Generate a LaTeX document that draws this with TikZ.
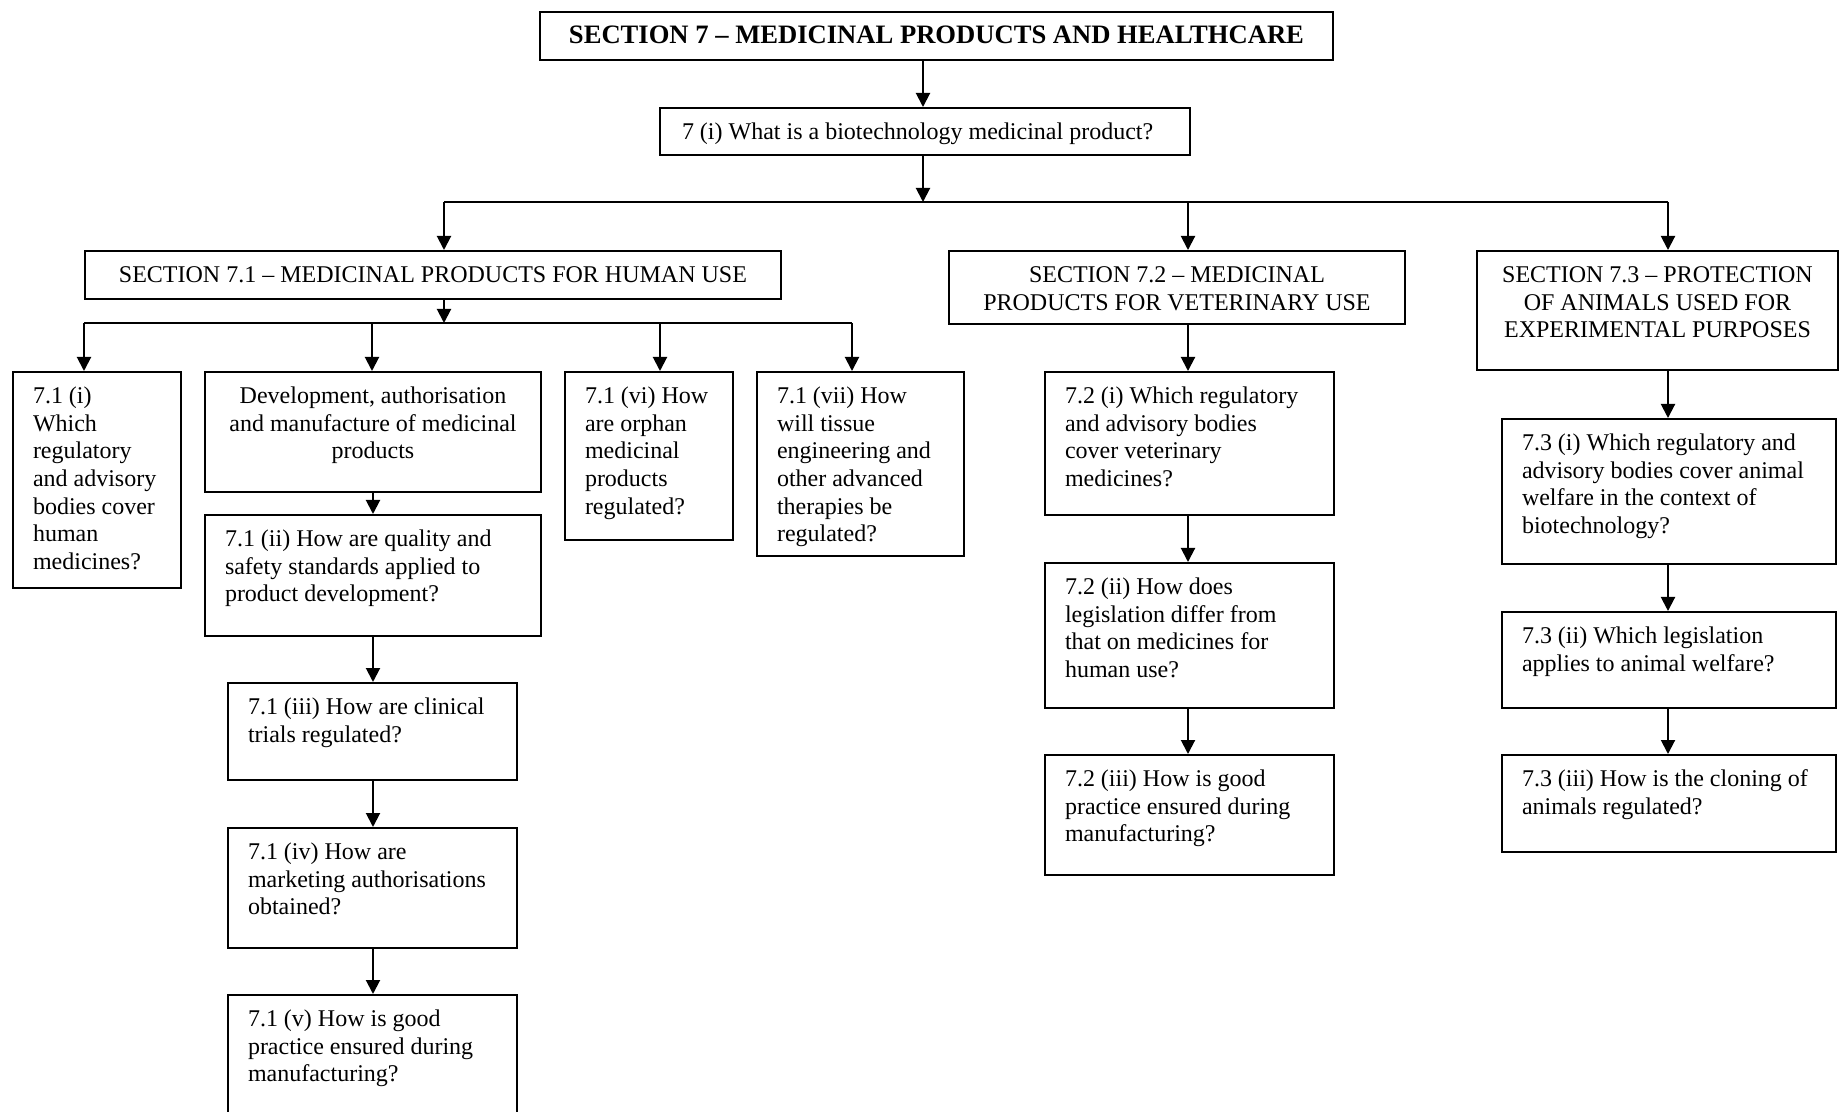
\documentclass[tikz,border=0pt]{standalone}
\usepackage{fontspec}
\setmainfont{Liberation Serif}
\usetikzlibrary{arrows.meta}
\tikzset{
  qbox/.style={draw, line width=1pt, inner sep=0pt, font=\fontsize{12}{13.8}\selectfont},
  arr/.style={line width=1pt, -{Triangle[length=7pt,width=7pt]}},
  link/.style={line width=1pt},
}
% #1 name, #2 x1, #3 y1, #4 x2, #5 y2 (pixel grid), #6 left padding (pt), #7 alignment, #8 text
\newcommand\qnode[8]{%
  \pgfmathsetmacro\qbw{(#4-#2)*0.5}%
  \pgfmathsetmacro\qbh{(#5-#3)*0.5}%
  \pgfmathsetmacro\qtw{\qbw-#6-#6}%
  \node[qbox, anchor=north west] (#1) at (#2,#3)
   {\parbox[b][\qbh pt][t]{\qbw pt}{\vspace*{6.2pt}\noindent\hspace*{#6pt}\parbox[t]{\qtw pt}{#7\strut#8}}};%
}
\begin{document}
\begin{tikzpicture}[x=0.5pt,y=-0.5pt]
\useasboundingbox (0,0) rectangle (1843,1112);
\clip (0,0) rectangle (1843,1112);

% top of the tree
\qnode{t}{539}{11}{1332}{59}{2}{\centering}{\fontsize{13.3}{14}\selectfont\bfseries SECTION 7 – MEDICINAL PRODUCTS AND HEALTHCARE}
\qnode{q7}{659}{107}{1189}{154}{11}{\raggedright}{7 (i) What is a biotechnology medicinal product?}

% three sections
\qnode{s71}{84}{250}{780}{298}{2}{\centering}{SECTION 7.1 – MEDICINAL PRODUCTS FOR HUMAN USE}
\qnode{s72}{948}{250}{1404}{323}{2}{\centering}{SECTION 7.2 – MEDICINAL\\PRODUCTS FOR VETERINARY USE}
\qnode{s73}{1476}{250}{1837}{369}{2}{\centering}{SECTION 7.3 – PROTECTION\\OF ANIMALS USED FOR\\EXPERIMENTAL PURPOSES}

% section 7.1
\qnode{a1}{12}{371}{180}{587}{10}{\raggedright}{7.1 (i)\\Which\\regulatory\\and advisory\\bodies cover\\human\\medicines?}
\qnode{dev}{204}{371}{540}{491}{3}{\centering}{Development, authorisation\\and manufacture of medicinal\\products}
\qnode{a2}{204}{514}{540}{635}{10}{\raggedright}{7.1 (ii) How are quality and\\safety standards applied to\\product development?}
\qnode{a3}{227}{682}{516}{779}{10}{\raggedright}{7.1 (iii) How are clinical\\trials regulated?}
\qnode{a4}{227}{827}{516}{947}{10}{\raggedright}{7.1 (iv) How are\\marketing authorisations\\obtained?}
\qnode{a5}{227}{994}{516}{1140}{10}{\raggedright}{7.1 (v) How is good\\practice ensured during\\manufacturing?}
\qnode{a6}{564}{371}{732}{539}{10}{\raggedright}{7.1 (vi) How\\are orphan\\medicinal\\products\\regulated?}
\qnode{a7}{756}{371}{963}{555}{10}{\raggedright}{7.1 (vii) How\\will tissue\\engineering and\\other advanced\\therapies be\\regulated?}

% section 7.2
\qnode{b1}{1044}{371}{1333}{514}{10}{\raggedright}{7.2 (i) Which regulatory\\and advisory bodies\\cover veterinary\\medicines?}
\qnode{b2}{1044}{562}{1333}{707}{10}{\raggedright}{7.2 (ii) How does\\legislation differ from\\that on medicines for\\human use?}
\qnode{b3}{1044}{754}{1333}{874}{10}{\raggedright}{7.2 (iii) How is good\\practice ensured during\\manufacturing?}

% section 7.3
\qnode{c1}{1501}{418}{1835}{563}{10}{\raggedright}{7.3 (i) Which regulatory and\\advisory bodies cover animal\\welfare in the context of\\biotechnology?}
\qnode{c2}{1501}{611}{1835}{707}{10}{\raggedright}{7.3 (ii) Which legislation\\applies to animal welfare?}
\qnode{c3}{1501}{754}{1835}{851}{10}{\raggedright}{7.3 (iii) How is the cloning of\\animals regulated?}

% junction points of the branching lines
\coordinate (j0) at (923,202);
\coordinate (bl) at (444,202);
\coordinate (bm) at (1188,202);
\coordinate (br) at (1668,202);
\coordinate (k0) at (444,323);
\coordinate (k1) at (84,323);
\coordinate (k2) at (372,323);
\coordinate (k3) at (660,323);
\coordinate (k4) at (852,323);

% connectors
\draw[arr] (t.south -| j0) -- (q7.north -| j0);
\draw[arr] (q7.south -| j0) -- (j0);
\draw[link] (bl) -- (br);
\draw[arr] (bl) -- (s71.north -| bl);
\draw[arr] (bm) -- (s72.north -| bm);
\draw[arr] (br) -- (s73.north -| br);

\draw[arr] (s71.south -| k0) -- (k0);
\draw[link] (k1) -- (k4);
\draw[arr] (k1) -- (a1.north -| k1);
\draw[arr] (k2) -- (dev.north -| k2);
\draw[arr] (k3) -- (a6.north -| k3);
\draw[arr] (k4) -- (a7.north -| k4);

\draw[arr] (dev.south) -- (a2.north -| dev.south);
\draw[arr] (a2.south) -- (a3.north -| a2.south);
\draw[arr] (a3.south -| a2.south) -- (a4.north -| a2.south);
\draw[arr] (a4.south -| a2.south) -- (a5.north -| a2.south);

\draw[arr] (s72.south -| bm) -- (b1.north -| bm);
\draw[arr] (b1.south -| bm) -- (b2.north -| bm);
\draw[arr] (b2.south -| bm) -- (b3.north -| bm);

\draw[arr] (s73.south -| br) -- (c1.north -| br);
\draw[arr] (c1.south -| br) -- (c2.north -| br);
\draw[arr] (c2.south -| br) -- (c3.north -| br);
\end{tikzpicture}
\end{document}
